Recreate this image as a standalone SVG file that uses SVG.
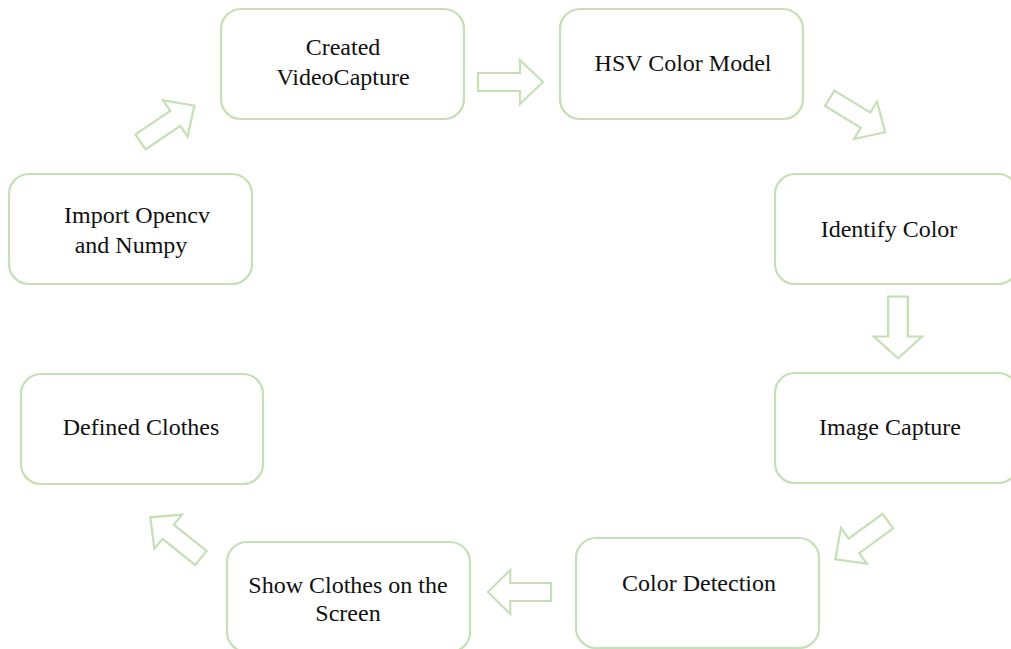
<svg xmlns="http://www.w3.org/2000/svg" width="1011" height="649" viewBox="0 0 1011 649">
<style>
.box{fill:#fff;stroke:#c5e0b4;stroke-width:2.2}
.arr{fill:#fff;stroke:#c5e0b4;stroke-width:2.2;stroke-linejoin:miter}
text{font-family:"Liberation Serif","Times New Roman",serif;font-size:24px;fill:#111;text-anchor:middle}
</style>
<defs>
<path id="ar" d="M-32,-9 L10,-9 L10,-22 L33,0 L10,22 L10,9 L-32,9 Z"/>
</defs>
<rect width="1011" height="649" fill="#fff"/>
<g id="connectors">
<use href="#ar" class="arr" transform="translate(167,124) rotate(-34)"/>
<use href="#ar" class="arr" transform="translate(510,82)"/>
<use href="#ar" class="arr" transform="translate(857,115) rotate(31.5)"/>
<use href="#ar" class="arr" transform="translate(898,327) rotate(90) scale(0.95,1.1)"/>
<use href="#ar" class="arr" transform="translate(862,540) rotate(144)"/>
<use href="#ar" class="arr" transform="translate(520,592) rotate(180) scale(0.97,1)"/>
<use href="#ar" class="arr" transform="translate(176,538) rotate(218.7)"/>
</g>
<g id="n1"><rect class="box" x="221" y="9" width="243" height="110" rx="20"/><text x="343" y="55">Created</text><text x="343" y="85">VideoCapture</text></g>
<g id="n2"><rect class="box" x="560" y="9" width="243" height="110" rx="20"/><text x="683" y="71">HSV Color Model</text></g>
<g id="n3"><rect class="box" x="775" y="174" width="243" height="110" rx="20"/><text x="889" y="237">Identify Color</text></g>
<g id="n4"><rect class="box" x="775" y="373" width="243" height="110" rx="20"/><text x="890" y="435">Image Capture</text></g>
<g id="n5"><rect class="box" x="576" y="538" width="243" height="110" rx="20"/><text x="699" y="591">Color Detection</text></g>
<g id="n6"><rect class="box" x="227" y="542" width="243" height="110" rx="20"/><text x="348" y="593">Show Clothes on the</text><text x="348" y="621">Screen</text></g>
<g id="n7"><rect class="box" x="21" y="374" width="242" height="110" rx="20"/><text x="141" y="435">Defined Clothes</text></g>
<g id="n8"><rect class="box" x="9" y="174" width="243" height="110" rx="20"/><text x="137" y="223">Import Opencv</text><text x="131" y="253">and Numpy</text></g>
</svg>
